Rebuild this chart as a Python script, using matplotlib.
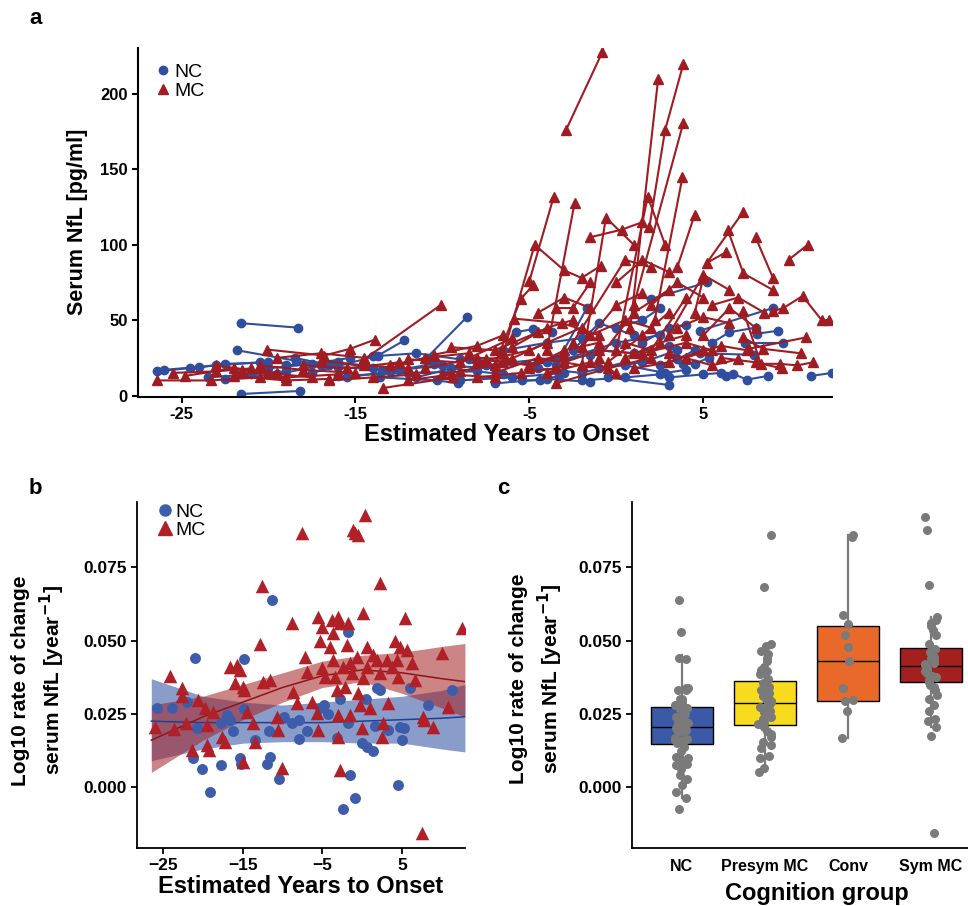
import numpy as np
import matplotlib
matplotlib.use("Agg")
from matplotlib import pyplot as plt
from matplotlib import font_manager
from matplotlib.lines import Line2D

# ---- panel a: longitudinal serum NfL (years to onset, pg/ml), one list per participant
nc_traj = [
    [(-26.4, 16), (-23.0, 20), (-20.5, 22)],
    [(-21.6, 48), (-18.3, 45)],
    [(-21.6, 1), (-18.2, 3)],
    [(-21.8, 30), (-18.4, 23), (-16.5, 20)],
    [(-23.5, 12), (-21.0, 14), (-19.0, 16)],
    [(-20.0, 18), (-17.5, 21), (-15.3, 25)],
    [(-17.5, 15), (-13.7, 26.5), (-12.2, 36.5)],
    [(-10.9, 25), (-8.6, 52)],
    [(-13.6, 12), (-10.3, 10), (-9.1, 8)],
    [(-16.0, 13), (-12.0, 15), (-8.0, 16)],
    [(-5.8, 42), (-4.8, 44), (-3.7, 42)],
    [(-5.4, 10), (-4.4, 10), (-3.3, 13)],
    [(-7.5, 20), (-4.0, 22), (-1.5, 27)],
    [(-2.5, 30), (-1.0, 48), (1.0, 40)],
    [(-0.5, 12), (3.0, 7)],
    [(2.0, 64), (5.2, 75)],
    [(3.85, 21), (4.5, 21), (5.3, 25)],
    [(4.8, 28), (7.9, 27)],
    [(7.4, 35), (9.6, 35)],
    [(8.1, 41), (9.3, 43)],
    [(4.8, 43), (9.0, 58)],
    [(6.3, 13), (6.7, 14.5), (7.5, 10.5), (8.7, 13)],
    [(11.2, 13), (12.4, 15)],
    [(-1.0, 18), (1.5, 22), (3.5, 30)],
    [(-3.0, 24), (0.0, 35), (2.5, 40)],
    [(0.5, 20), (2.8, 15), (4.0, 17)],
    [(-8.5, 24), (-6.0, 22), (-3.5, 25)],
    [(-12.5, 17), (-10.0, 20), (-7.0, 18)],
    [(-3.5, 20), (-1.7, 58)],
    [(-19.0, 20), (-16.0, 22), (-14.0, 18)],
    [(-24.5, 18), (-22.5, 21), (-20.0, 22)],
    [(-22.5, 11), (-19.5, 14), (-17.0, 20)],
    [(-18.5, 25), (-16.0, 19), (-13.5, 17)],
    [(-15.5, 12), (-13.0, 16), (-10.5, 21)],
    [(-14.0, 26), (-11.5, 28), (-9.0, 24)],
    [(-11.5, 12), (-9.5, 18), (-6.5, 14)],
    [(-9.0, 10), (-6.0, 12), (-3.0, 15)],
    [(-6.5, 30), (-4.0, 35), (-2.0, 38)],
    [(-4.5, 18), (-2.0, 15), (0.5, 22)],
    [(-2.0, 10), (0.5, 12), (2.5, 14)],
    [(-1.0, 30), (1.0, 28), (3.0, 33)],
    [(0.0, 45), (1.5, 50), (2.5, 58)],
    [(2.5, 20), (3.5, 24), (4.5, 30)],
    [(3.0, 12), (5.0, 14), (6.0, 15)],
    [(5.5, 35), (6.5, 42), (8.0, 45)],
    [(-7.0, 8), (-4.0, 11), (-1.5, 9)],
    [(1.5, 35), (3.0, 45), (4.0, 47)],
    [(-26.0, 17), (-24.0, 19)],
]
mc_traj = [
    [(-26.4, 10), (-23.3, 10), (-20.5, 12)],
    [(-24.8, 13), (-22.0, 18), (-19.5, 15)],
    [(-20.1, 30.5), (-16.8, 26.5), (-15.3, 31), (-13.9, 37)],
    [(-23.0, 20), (-20.0, 15), (-17.5, 12)],
    [(-21.5, 17), (-19.0, 12), (-16.0, 14)],
    [(-14.5, 24), (-10.1, 60)],
    [(-13.4, 5), (-9.4, 12)],
    [(-18.0, 20), (-15.5, 18), (-12.5, 22)],
    [(-12.0, 24), (-9.0, 22), (-6.0, 38)],
    [(-10.0, 14), (-7.0, 20), (-5.5, 64), (-4.8, 73)],
    [(-5.0, 76), (-3.6, 132)],
    [(-6.5, 28), (-4.7, 100), (-3.0, 83), (-2.0, 78), (-0.9, 86)],
    [(-4.0, 30), (-2.4, 128)],
    [(-2.9, 176), (-0.8, 228)],
    [(-3.5, 58), (-2.5, 58), (-1.5, 75)],
    [(-5.9, 51), (-3.1, 48), (-1.0, 40)],
    [(-2.0, 20), (-0.6, 118), (1.0, 100)],
    [(0.0, 30), (1.8, 132), (2.8, 100)],
    [(0.8, 45), (2.4, 210)],
    [(1.9, 112), (2.8, 176), (3.85, 220)],
    [(1.0, 60), (3.85, 181)],
    [(2.2, 50), (3.8, 145)],
    [(3.5, 85), (4.5, 120)],
    [(6.3, 95), (5.2, 88), (7.3, 122)],
    [(6.4, 110), (7.3, 81), (9.0, 70)],
    [(8.0, 105), (9.0, 78)],
    [(9.9, 90), (11.0, 100)],
    [(9.0, 56), (9.6, 58), (10.7, 66), (11.8, 50), (12.2, 50)],
    [(7.3, 56), (8.3, 21), (9.4, 21), (10.4, 20), (11.3, 22)],
    [(7.3, 38.5), (8.4, 31), (10.6, 28)],
    [(7.6, 31), (10.9, 38.5)],
    [(-8.0, 22), (-5.0, 30), (-2.0, 45)],
    [(-7.0, 15), (-4.5, 25), (-2.0, 20)],
    [(-11.0, 18), (-8.0, 25), (-6.0, 24)],
    [(-1.0, 25), (1.0, 55), (3.0, 70)],
    [(0.5, 35), (2.0, 30), (4.0, 65)],
    [(3.0, 40), (5.0, 80), (6.5, 70)],
    [(-4.0, 15), (-1.5, 22), (0.0, 15)],
    [(-16.5, 10), (-14.0, 12), (-11.5, 14)],
    [(-22.0, 13), (-19.0, 10), (-16.5, 11)],
    [(-3.5, 8), (-0.5, 18), (2.0, 25)],
    [(5.0, 40), (6.5, 58), (8.0, 45)],
    [(1.5, 28), (4.0, 35), (5.5, 30)],
    [(-2.5, 35), (0.5, 90), (2.0, 85)],
    [(-1.5, 105), (0.3, 110), (1.5, 115)],
    [(4.5, 55), (5.0, 78)],
    [(6.0, 25), (8.0, 22), (9.5, 18)],
    [(-9.5, 32), (-7.0, 30), (-4.5, 42)],
    [(3.0, 28), (5.5, 20), (7.0, 24)],
    [(-25.5, 15), (-23.0, 16), (-21.0, 18)],
    [(-20.5, 20), (-18.0, 17), (-15.0, 15)],
    [(-17.0, 23), (-14.5, 20), (-12.0, 18)],
    [(-13.0, 20), (-11.0, 25), (-8.5, 28)],
    [(-10.5, 27), (-8.0, 33), (-6.5, 40)],
    [(-9.0, 16), (-6.5, 22), (-4.0, 35)],
    [(-7.5, 24), (-5.0, 20), (-3.0, 27)],
    [(-6.0, 32), (-4.0, 45), (-2.5, 50)],
    [(-5.0, 18), (-3.0, 30), (-1.0, 35)],
    [(-3.0, 22), (-1.0, 30), (1.0, 28)],
    [(-2.0, 32), (0.0, 60), (1.5, 68)],
    [(-1.5, 40), (0.5, 50), (2.0, 45)],
    [(-0.5, 22), (1.5, 40), (3.0, 55)],
    [(0.5, 25), (2.5, 35), (4.0, 40)],
    [(1.0, 18), (3.0, 22), (5.0, 30)],
    [(2.0, 60), (3.5, 75), (5.0, 65)],
    [(3.5, 45), (5.0, 52), (6.5, 48)],
    [(4.0, 25), (6.0, 33), (7.5, 30)],
    [(-4.5, 55), (-3.0, 65), (-1.5, 58)],
    [(0.0, 75), (1.5, 90), (3.0, 82)],
    [(-8.0, 12), (-5.5, 15), (-3.5, 18)],
    [(-12.0, 10), (-9.5, 14), (-7.0, 12)],
    [(-19.5, 25), (-17.0, 28), (-14.5, 25)],
    [(5.5, 60), (7.0, 65), (8.5, 55)],
]

# ---- panel b: rate of change per participant
nc_years = [-25.8, -23.9, -22.0, -21.0, -20.7, -21.2, -20.1, -19.1, -17.8, -17.8,
            -17.0, -16.6, -16.2, -15.3, -15.2, -14.8, -14.8, -13.5, -11.7, -11.6,
            -12.0, -11.3, -10.4, -9.8, -7.9, -7.9, -6.9, -8.8, -5.3, -4.8,
            -4.3, -3.2, -2.8, -1.8, -1.8, -1.5, -0.9, -2.4, 0.0, 0.6,
            1.4, 1.8, 2.2, 1.6, 3.2, 4.5, 4.7, 5.2, 5.0, 6.0,
            8.2, 11.3, 0.5]
nc_rate = [0.027, 0.027, 0.029, 0.044, 0.020, 0.010, 0.006, -0.0017, 0.0075, 0.022,
           0.0245, 0.023, 0.019, 0.010, 0.0078, 0.0436, 0.0266, 0.016, 0.019, 0.0102,
           0.0078, 0.064, 0.0027, 0.024, 0.023, 0.0164, 0.019, 0.022, 0.027, 0.028,
           0.025, 0.0167, 0.030, 0.0528, 0.022, 0.0041, -0.0038, -0.0075, 0.015, 0.0137,
           0.0123, 0.0338, 0.033, 0.021, 0.0194, 0.0007, 0.0205, 0.020, 0.016, 0.0338,
           0.028, 0.033, 0.030]
mc_years = [-26.0, -24.1, -23.7, -22.6, -22.6, -22.2, -21.4, -20.6, -19.7, -19.5,
            -19.5, -19.3, -18.7, -17.6, -17.2, -16.6, -16.0, -15.7, -15.3, -15.0,
            -14.8, -15.0, -14.5, -13.7, -13.5, -12.8, -12.6, -12.5, -11.6, -10.7,
            -10.6, -10.1, -8.8, -8.7, -8.2, -7.6, -7.2, -6.9, -6.3, -5.7,
            -5.5, -5.3, -5.5, -5.0, -5.0, -4.7, -4.0, -3.8, -3.7, -3.7,
            -3.4, -3.2, -3.0, -2.8, -3.0, -3.0, -2.8, -2.4, -2.2, -1.9,
            -1.8, -1.5, -1.5, -1.3, -1.1, -0.9, -0.5, -0.7, -0.5, -0.3,
            0.0, 0.1, 0.1, 0.3, 0.6, 0.6, 1.0, 1.4, 1.8, 2.2,
            2.2, 2.5, 2.6, 3.1, 3.2, 3.7, 4.1, 4.4, 4.5, 4.7,
            5.4, 5.6, 6.2, 6.6, 7.5, 7.6, 7.7, 8.9, 10.0, 10.8,
            12.5]
mc_rate = [0.0205, 0.038, 0.0198, 0.0338, 0.031, 0.022, 0.0126, 0.0297, 0.027, 0.0211,
           0.0143, 0.0126, 0.0256, 0.0170, 0.0153, 0.041, 0.0355, 0.0416, 0.040, 0.034,
           0.0331, 0.0085, 0.0256, 0.0218, 0.0153, 0.049, 0.0685, 0.036, 0.0365, 0.0239,
           0.0194, 0.0065, 0.0559, 0.0324, 0.0286, 0.0866, 0.0443, 0.0392, 0.029, 0.0252,
           0.0194, 0.050, 0.058, 0.0546, 0.0406, 0.0375, 0.0477, 0.0569, 0.0525, 0.0433,
           0.0375, 0.0331, 0.058, 0.0559, 0.0245, 0.0170, 0.0058, 0.041, 0.034, 0.0484,
           0.0559, 0.0423, 0.0245, 0.0389, 0.0876, 0.0866, 0.0859, 0.0443, 0.032, 0.028,
           0.0201, 0.0593, 0.0372, 0.0927, 0.0477, 0.041, 0.027, 0.045, 0.0433, 0.0389,
           0.0696, 0.017, 0.0218, 0.0433, 0.0286, 0.041, 0.050, 0.0433, 0.0375, 0.0477,
           0.0576, 0.0467, 0.0423, 0.0365, -0.0157, 0.0239, 0.023, 0.0205, 0.0457, 0.0273,
           0.0542]

# loess fits with confidence bands
fit_years = [-26.5, -20, -15, -10, -5, 0, 5, 10, 12.9]
mc_fit = [0.016, 0.024, 0.029, 0.034, 0.038, 0.040, 0.039, 0.037, 0.036]
mc_lo = [0.005, 0.016, 0.023, 0.029, 0.034, 0.036, 0.032, 0.027, 0.024]
mc_hi = [0.028, 0.031, 0.035, 0.039, 0.043, 0.045, 0.046, 0.048, 0.049]
nc_fit = [0.0225, 0.022, 0.022, 0.022, 0.022, 0.0225, 0.023, 0.0235, 0.024]
nc_lo = [0.009, 0.013, 0.015, 0.0155, 0.0155, 0.015, 0.015, 0.013, 0.012]
nc_hi = [0.037, 0.031, 0.029, 0.028, 0.029, 0.030, 0.031, 0.033, 0.035]

# ---- panel c: cognition groups
groups = ["NC", "Presym MC", "Conv", "Sym MC"]
presym_rate = [0.0859, 0.0683, 0.049, 0.048, 0.0466, 0.0455, 0.044, 0.043, 0.041, 0.040,
               0.0395, 0.0385, 0.037, 0.0365, 0.0355, 0.0343, 0.033, 0.0325, 0.032, 0.031,
               0.0305, 0.030, 0.0295, 0.029, 0.0285, 0.028, 0.0275, 0.0267, 0.026, 0.0255,
               0.025, 0.0244, 0.0238, 0.0233, 0.0222, 0.0215, 0.0205, 0.019, 0.0182, 0.0172,
               0.0155, 0.0144, 0.0133, 0.0105, 0.0099, 0.0065, 0.005]
conv_rate = [0.0862, 0.0855, 0.0586, 0.0556, 0.0518, 0.0477, 0.043, 0.0338, 0.0297,
             0.0295, 0.026, 0.0167]
sym_rate = [0.0922, 0.0876, 0.0689, 0.058, 0.057, 0.056, 0.055, 0.0535, 0.052, 0.049,
            0.047, 0.046, 0.045, 0.0445, 0.044, 0.043, 0.0425, 0.042, 0.0415, 0.041,
            0.0405, 0.040, 0.0395, 0.039, 0.038, 0.0375, 0.0365, 0.036, 0.035, 0.034,
            0.033, 0.0315, 0.030, 0.028, 0.026, 0.0233, 0.0227, 0.0205, 0.0175, -0.0157]
box_q1 = [0.0147, 0.0211, 0.0295, 0.0359]
box_med = [0.0206, 0.0287, 0.0430, 0.0414]
box_q3 = [0.0274, 0.0361, 0.0550, 0.0474]
whisk_lo = [-0.0038, 0.005, 0.0167, 0.0205]
whisk_hi = [0.045, 0.049, 0.0862, 0.058]
box_colors = ["#3a5aa8", "#f7dc1e", "#e8692a", "#a3201f"]

BLUE = "#2f4f9e"
RED = "#9e1c22"
BLUE_PT = "#3d5daa"
RED_PT = "#b02026"

names = {f.name for f in font_manager.fontManager.ttflist}
plt.rcParams["font.family"] = ["Liberation Sans", "DejaVu Sans"]
narrow = "Liberation Sans Narrow" if "Liberation Sans Narrow" in names else "Liberation Sans"


def classic(ax, lw=1.2):
    for s in ("top", "right"):
        ax.spines[s].set_visible(False)
    for s in ("left", "bottom"):
        ax.spines[s].set_linewidth(lw)
    ax.tick_params(direction="out", length=4, width=lw, color="black")


fig = plt.figure(figsize=(9.68, 9.06), dpi=100)

# ---------------- panel a
ax_a = fig.add_axes([0.1426, 0.5618, 0.717, 0.3852])
for tr in nc_traj:
    xs, ys = zip(*tr)
    ax_a.plot(xs, ys, "-o", color=BLUE, lw=1.5, ms=6, zorder=2)
for tr in mc_traj:
    xs, ys = zip(*tr)
    ax_a.plot(xs, ys, "-^", color=RED, lw=1.5, ms=6.5, zorder=3)
ax_a.set_xlim(-27.5, 12.4)
ax_a.set_ylim(-1, 230.5)
ax_a.set_xticks([-25, -15, -5, 5])
ax_a.set_xticklabels(["-25", "-15", "-5", "5"])
ax_a.set_yticks([0, 50, 100, 150, 200])
classic(ax_a, 1.5)
for lab in ax_a.get_xticklabels() + ax_a.get_yticklabels():
    lab.set_fontfamily(narrow)
    lab.set_fontweight("bold")
    lab.set_fontsize(12)
leg_a = [Line2D([], [], marker="o", ls="", color=BLUE, ms=6, label="NC"),
         Line2D([], [], marker="^", ls="", color=RED, ms=6.5, label="MC")]
ax_a.legend(handles=leg_a, loc="upper left", bbox_to_anchor=(0.0, 1.0), frameon=False,
            handletextpad=0.05, labelspacing=0.05, handlelength=1.0, borderaxespad=0.4,
            prop={"family": narrow, "size": 14})
fig.text(0.523, 0.520, "Estimated Years to Onset", ha="center", va="center",
         fontsize=17, fontweight="bold", family=narrow)
fig.text(0.080, 0.755, "Serum NfL [pg/ml]", ha="center", va="center", rotation=90,
         fontsize=15.5, fontweight="bold")
fig.text(0.030, 0.980, "a", ha="left", va="center", fontsize=16, fontweight="bold")

# ---------------- panel b
ax_b = fig.add_axes([0.1415, 0.064, 0.3388, 0.3819])
ax_b.fill_between(fit_years, nc_lo, nc_hi, color="#3a5aa8", alpha=0.6, lw=0, zorder=1)
ax_b.fill_between(fit_years, mc_lo, mc_hi, color="#a51f22", alpha=0.55, lw=0, zorder=1)
ax_b.plot(fit_years, nc_fit, color="#23408f", lw=1.1, zorder=2)
ax_b.plot(fit_years, mc_fit, color="#8f1419", lw=1.1, zorder=2)
ax_b.scatter(nc_years, nc_rate, marker="o", s=62, color=BLUE_PT, lw=0, zorder=3)
ax_b.scatter(mc_years, mc_rate, marker="^", s=95, color=RED_PT, lw=0, zorder=3)
ax_b.set_xlim(-28.3, 12.9)
ax_b.set_ylim(-0.0208, 0.0973)
ax_b.set_xticks([-25, -15, -5, 5])
ax_b.set_yticks([0.0, 0.025, 0.05, 0.075])
ax_b.set_yticklabels(["0.000", "0.025", "0.050", "0.075"])
classic(ax_b, 1.3)
ax_b.tick_params(labelsize=12.5)
for lab in ax_b.get_xticklabels() + ax_b.get_yticklabels():
    lab.set_fontweight("bold")
leg_b = [Line2D([], [], marker="o", ls="", color=BLUE_PT, ms=8, label="NC"),
         Line2D([], [], marker="^", ls="", color=RED_PT, ms=9.5, label="MC")]
ax_b.legend(handles=leg_b, loc="upper left", bbox_to_anchor=(0.02, 1.03), frameon=False,
            handletextpad=0.05, labelspacing=0.0, handlelength=1.0, borderaxespad=0.2,
            fontsize=14)
fig.text(0.311, 0.022, "Estimated Years to Onset", ha="center", va="center",
         fontsize=17, fontweight="bold")
fig.text(0.040, 0.249, "Log10 rate of change\nserum NfL [year$^{\\mathbf{-1}}$]",
         ha="center", va="center", rotation=90, fontsize=15, fontweight="bold",
         linespacing=1.35)
fig.text(0.030, 0.461, "b", ha="left", va="center", fontsize=16, fontweight="bold")

# ---------------- panel c
ax_c = fig.add_axes([0.6529, 0.064, 0.3605, 0.3819])
stats = [dict(q1=box_q1[i], med=box_med[i], q3=box_q3[i], whislo=whisk_lo[i],
              whishi=whisk_hi[i], fliers=[], label=groups[i]) for i in range(4)]
bp = ax_c.bxp(stats, positions=range(4), widths=0.75, patch_artist=True,
              showfliers=False, showcaps=False,
              boxprops=dict(edgecolor="black", linewidth=1.0),
              medianprops=dict(color="black", linewidth=1.0),
              whiskerprops=dict(color="#7a7a7a", linewidth=1.6, zorder=1))
for patch, col in zip(bp["boxes"], box_colors):
    patch.set_facecolor(col)
rng = np.random.default_rng(5)
for i, vals in enumerate([nc_rate, presym_rate, conv_rate, sym_rate]):
    jit = rng.uniform(-0.08, 0.08, len(vals))
    ax_c.scatter(i + jit, vals, s=42, color="#7a7a7a", lw=0, zorder=4)
ax_c.set_xlim(-0.6, 3.6)
ax_c.set_ylim(-0.0208, 0.0973)
ax_c.set_yticks([0.0, 0.025, 0.05, 0.075])
ax_c.set_yticklabels(["0.000", "0.025", "0.050", "0.075"])
classic(ax_c, 1.3)
ax_c.tick_params(axis="x", length=0, labelsize=11.5, pad=8)
ax_c.tick_params(axis="y", labelsize=12.5)
for lab in ax_c.get_xticklabels() + ax_c.get_yticklabels():
    lab.set_fontweight("bold")
fig.text(0.844, 0.014, "Cognition group", ha="center", va="center",
         fontsize=17, fontweight="bold")
fig.text(0.555, 0.251, "Log10 rate of change\nserum NfL [year$^{\\mathbf{-1}}$]",
         ha="center", va="center", rotation=90, fontsize=15, fontweight="bold",
         linespacing=1.35)
fig.text(0.514, 0.461, "c", ha="left", va="center", fontsize=16, fontweight="bold")

fig.savefig("out.png", dpi=100)
plt.close(fig)
